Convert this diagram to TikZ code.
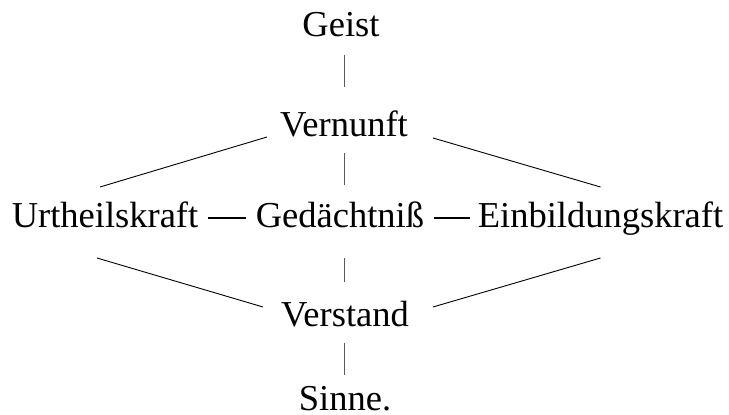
\documentclass[tikz,border=0pt]{standalone}
\usepackage{fontspec}
\setmainfont{Liberation Serif}
\tikzset{
thick,
term/.style={inner sep=0pt, anchor=base, font=\fontsize{36.5}{44}\selectfont},
bar/.style={line width=0.8pt, black!65},
link/.style={line width=0.9pt, black},
emdash/.style={line width=1.6pt, black},
}

\begin{document}
\begin{tikzpicture}
    [x=1pt, y=1pt]
    \useasboundingbox (0,0) rectangle (729,415);

    \node [term] (geist) at (341,378) {Geist};
    \node [term] (vernunft) at (344,278) {Vernunft};
    \node [term] (urtheil) at (105,187) {Urtheilskraft};
    \node [term] (gedaechtnis) at (340,187) {Gedächtniß};
    \node [term] (einbildung) at (600.5,187) {Einbildungskraft};
    \node [term] (verstand) at (345,88) {Verstand};
    \node [term] (sinne) at (345,4) {Sinne.};

    % senkrechte Striche
    \draw [bar] ([shift={(3,-18)}]geist.base) -- ([shift={(0,50)}]vernunft.base);
    \draw [bar] ([shift={(0,-16)}]vernunft.base) -- ([shift={(4,43)}]gedaechtnis.base);
    \draw [bar] ([shift={(4,-30)}]gedaechtnis.base) -- ([shift={(-1,45)}]verstand.base);
    \draw [bar] ([shift={(-1,-16)}]verstand.base) -- ([shift={(-1,36)}]sinne.base);

    % Gedankenstriche
    \draw [emdash] ([shift={(10,10)}]urtheil.base east) -- ([shift={(-10,10)}]gedaechtnis.base west);
    \draw [emdash] ([shift={(10,10)}]gedaechtnis.base east) -- ([shift={(-8,10)}]einbildung.base west);

    % schraege Linien
    \draw [link] ([shift={(-5,41)}]urtheil.base) -- ([shift={(-77,0)}]vernunft.base);
    \draw [link] ([shift={(89,-1)}]vernunft.base) -- ([shift={(0,41)}]einbildung.base);
    \draw [link] ([shift={(-8,-30)}]urtheil.base) -- ([shift={(-82,20)}]verstand.base);
    \draw [link] ([shift={(0,-30)}]einbildung.base) -- ([shift={(88,20)}]verstand.base);

\end{tikzpicture}
\end{document}
